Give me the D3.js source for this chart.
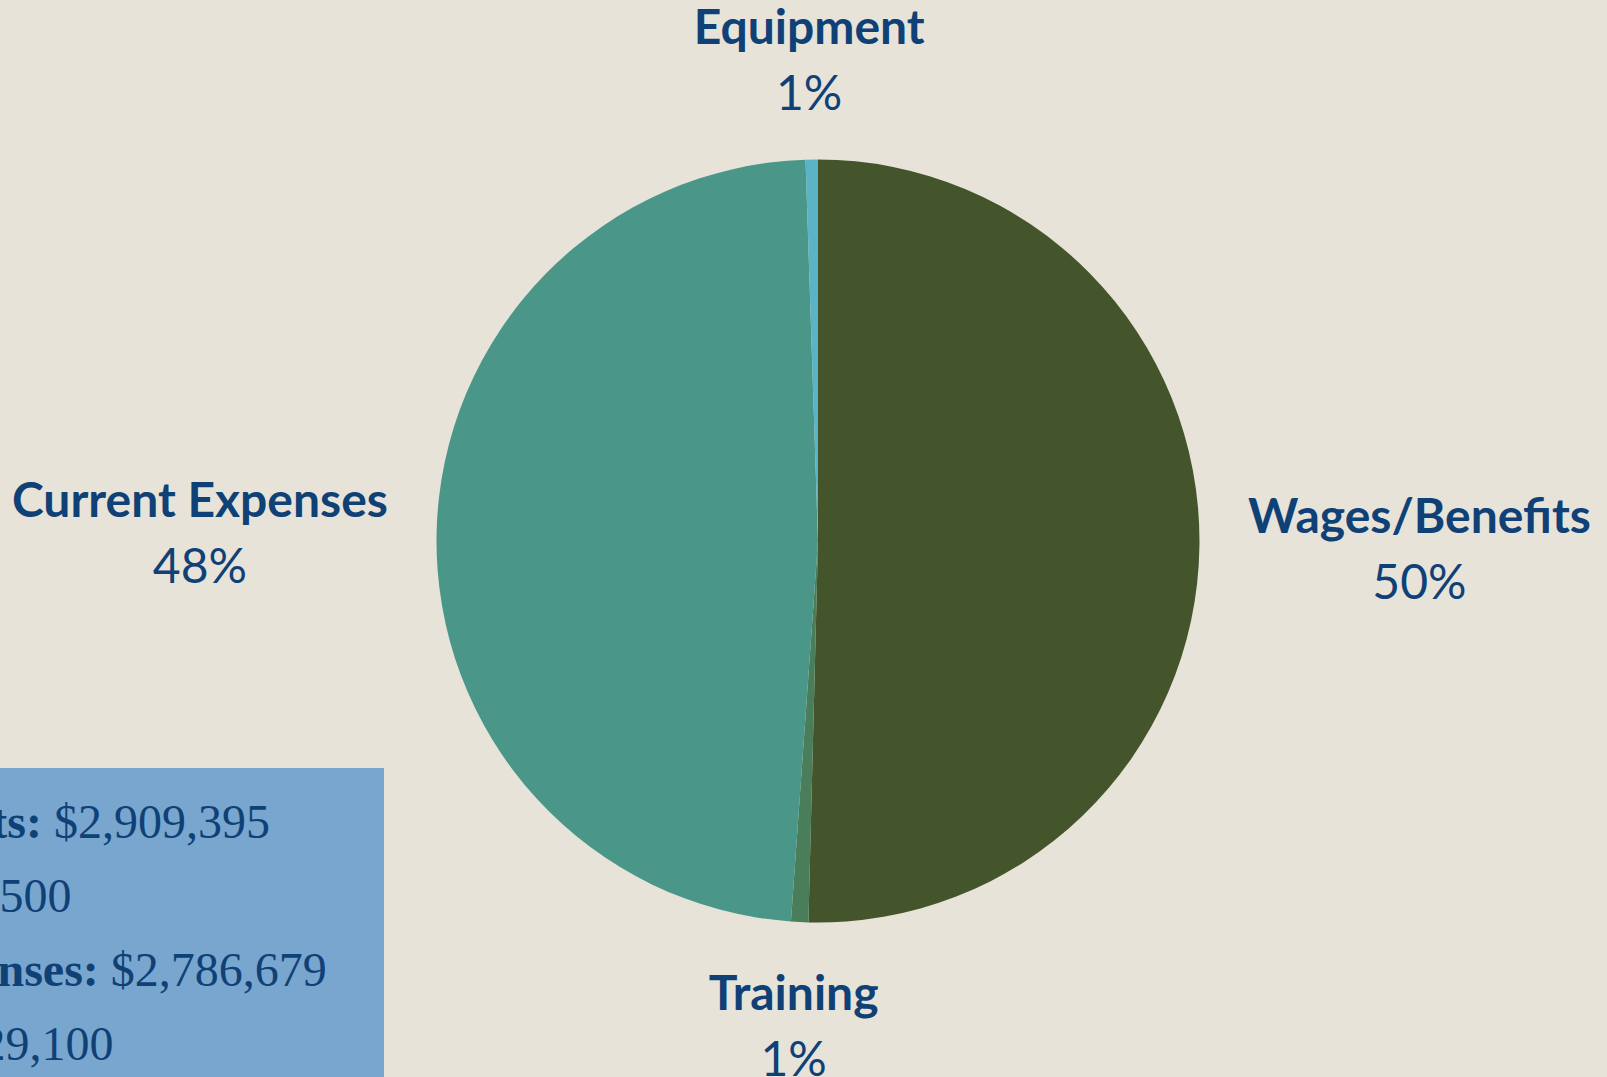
<!DOCTYPE html>
<html lang="en">

<head>
  <meta charset="UTF-8" />
  <title>Budget Breakdown</title>
  <script src="https://d3js.org/d3.v7.min.js"></script>
  <style>
    html, body {
      margin: 0;
      padding: 0;
      background: #e7e3d9;
      overflow: hidden;
    }

    .slice-label {
      font-family: Lato, "Open Sans", sans-serif;
      fill: #0f4176;
      font-size: 48px;
    }

    .summary {
      font-family: "Liberation Serif", "DejaVu Serif", serif;
      fill: #0f4176;
      font-size: 48px;
    }
  </style>
</head>

<body>
  <svg width="1607" height="1077"></svg>

  <script>
    // slices, clockwise from 12 o'clock
    const categories = ["Wages/Benefits", "Training", "Current Expenses", "Equipment"];
    const shares = [50.4, 0.73, 48.35, 0.52];
    const colors = ["#44552b", "#4a7d5a", "#4a978a", "#5ab4c5"];

    // summary box lines (left side is cut off by the page edge)
    const summaryLabels = ["Total Costs:", "Fees:", "Our Expenses:", "Travel:"];
    const summaryValues = ["$2,909,395", "$14,500", "$2,786,679", "$29,100"];

    const svg = d3.select("svg");
    const W = +svg.attr("width");
    const H = +svg.attr("height");

    svg.append("rect").attr("width", W).attr("height", H).attr("fill", "#e7e3d9");

    const cx = 818, cy = 541, radius = 381.5;
    const chart = svg.append("g").attr("transform", `translate(${cx},${cy})`);

    const data = categories.map((c, i) => ({ name: c, value: shares[i], color: colors[i] }));
    const total = d3.sum(shares);

    const pie = d3.pie().sort(null).value(d => d.value);
    const arc = d3.arc().innerRadius(0).outerRadius(radius);
    const arcs = pie(data);

    chart.selectAll("path.slice")
      .data(arcs)
      .enter()
      .append("path")
      .attr("class", "slice")
      .attr("d", arc)
      .attr("fill", d => d.data.color);

    // outside-end labels, pushed off the rim by their own box size
    arcs.forEach(d => {
      const g = chart.append("g").attr("class", "slice-label");
      g.append("text")
        .attr("text-anchor", "middle")
        .attr("font-weight", 700)
        .attr("y", 0)
        .text(d.data.name);
      g.append("text")
        .attr("text-anchor", "middle")
        .attr("y", 66)
        .text(Math.round(d.data.value / total * 100) + "%");
      const bb = g.node().getBBox();
      const a = (d.startAngle + d.endAngle) / 2;
      const s = Math.sin(a), c = -Math.cos(a);
      const gap = 48 * Math.abs(s) + 39 * Math.abs(c);
      const px = s * (radius + gap) + s * bb.width / 2;
      const py = c * (radius + gap) + c * bb.height / 2;
      const ox = px - (bb.x + bb.width / 2);
      const oy = py - (bb.y + bb.height / 2);
      g.attr("transform", `translate(${ox},${oy})`);
    });

    // summary box
    const box = svg.append("g").attr("class", "summary");
    box.append("rect")
      .attr("x", -420)
      .attr("y", 768)
      .attr("width", 804)
      .attr("height", 400)
      .attr("fill", "#79a6cf");

    summaryLabels.forEach((lab, i) => {
      const t = box.append("text")
        .attr("x", -203)
        .attr("y", 838 + i * 74);
      t.append("tspan").attr("font-weight", 700).text(lab + " ");
      t.append("tspan").text(summaryValues[i]);
    });
  </script>
</body>

</html>
